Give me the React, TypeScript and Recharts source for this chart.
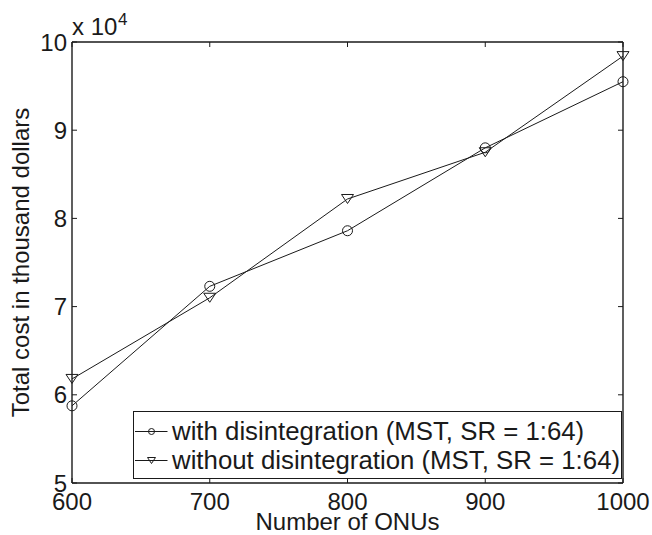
import React from 'react';
import { LineChart, Line, XAxis, YAxis, Legend, ReferenceLine } from 'recharts';

// values (cost in thousand dollars)
const onus = [600, 700, 800, 900, 1000];
const withDisintegration = [58750, 72300, 78600, 88000, 95500];
const withoutDisintegration = [61800, 71000, 82200, 87500, 98400];
const xTicks = [600, 700, 800, 900, 1000];
const yTicks = [50000, 60000, 70000, 80000, 90000, 100000];
const seriesNames = ['with disintegration (MST, SR = 1:64)', 'without disintegration (MST, SR = 1:64)'];

const data = onus.map((n, i) => ({
  onus: n,
  withDis: withDisintegration[i],
  withoutDis: withoutDisintegration[i],
}));

const W = 652;
const H = 535;
const margin = { top: 42, right: 29, bottom: 22, left: 12 };
const Y_AXIS_W = 60;
const X_AXIS_H = 30;
const PLOT_W = W - margin.left - margin.right - Y_AXIS_W;
const PLOT_H = H - margin.top - margin.bottom - X_AXIS_H;
const TICK_LEN = 5;
const INK = '#1a1a1a';
const FONT = '"Liberation Sans", Arial, Helvetica, sans-serif';

const CircleMark = ({ cx, cy, r = 5 }: any) => (
  <circle cx={cx} cy={cy} r={r} fill="none" stroke={INK} strokeWidth={1} />
);

const TriangleMark = ({ cx, cy, s = 6 }: any) => (
  <polygon
    points={`${cx - s},${cy - s * 0.75} ${cx + s},${cy - s * 0.75} ${cx},${cy + s * 0.75}`}
    fill="none"
    stroke={INK}
    strokeWidth={1}
  />
);

// bottom tick: inward tick at bottom and top of the box, label below
const BottomTick = (props: any) => {
  const { x, y, payload } = props;
  const axisY = y - 10;
  return (
    <g>
      <line x1={x} x2={x} y1={axisY} y2={axisY - TICK_LEN} stroke={INK} />
      <line x1={x} x2={x} y1={axisY - PLOT_H} y2={axisY - PLOT_H + TICK_LEN} stroke={INK} />
      <text x={x} y={y} dy="0.71em" textAnchor="middle" fill={INK} fontSize={24} fontFamily={FONT}>
        {payload.value}
      </text>
    </g>
  );
};

// left tick: inward tick at left and right of the box, label left
const LeftTick = (props: any) => {
  const { x, y, payload } = props;
  const axisX = x + 5;
  return (
    <g>
      <line x1={axisX} x2={axisX + TICK_LEN} y1={y} y2={y} stroke={INK} />
      <line x1={axisX + PLOT_W} x2={axisX + PLOT_W - TICK_LEN} y1={y} y2={y} stroke={INK} />
      <text x={x} y={y} dy="0.355em" textAnchor="end" fill={INK} fontSize={24} fontFamily={FONT}>
        {payload.value / 10000}
      </text>
    </g>
  );
};

const legendMarks = [CircleMark, TriangleMark];

const LegendBox = () => (
  <div
    style={{
      width: 489,
      height: 68,
      boxSizing: 'border-box',
      border: `1.3px solid ${INK}`,
      background: '#fff',
      paddingTop: 5,
      fontFamily: FONT,
      fontSize: 25.8,
      color: INK,
    }}
  >
    {seriesNames.map((name, i) => {
      const Mark = legendMarks[i];
      return (
        <div key={name} style={{ display: 'flex', alignItems: 'center', height: 29, whiteSpace: 'nowrap' }}>
          <svg width={38} height={29} style={{ flex: 'none' }}>
            <line x1={1} x2={33.5} y1={14.5} y2={14.5} stroke={INK} strokeWidth={1} />
            {i === 0 ? <Mark cx={17.5} cy={14.5} r={3} /> : <Mark cx={17.5} cy={14.5} s={4} />}
          </svg>
          <span style={{ lineHeight: '29px' }}>{name}</span>
        </div>
      );
    })}
  </div>
);

export default function App() {
  return (
    <div style={{ position: 'absolute', left: 0, top: 0, width: W, height: H, background: '#fff', fontFamily: FONT }}>
      <LineChart width={W} height={H} data={data} margin={margin} style={{ fontFamily: FONT }}>
        <XAxis
          dataKey="onus"
          type="number"
          domain={[600, 1000]}
          ticks={xTicks}
          interval={0}
          height={X_AXIS_H}
          tickSize={0}
          tickMargin={10}
          tickLine={false}
          axisLine={{ stroke: INK, strokeWidth: 1.4 }}
          tick={<BottomTick />}
          label={{ value: 'Number of ONUs', position: 'bottom', offset: 0, fill: INK, fontSize: 24, fontFamily: FONT }}
        />
        <YAxis
          type="number"
          domain={[50000, 100000]}
          ticks={yTicks}
          interval={0}
          width={Y_AXIS_W}
          tickSize={0}
          tickMargin={5}
          tickLine={false}
          axisLine={{ stroke: INK, strokeWidth: 1.4 }}
          tick={<LeftTick />}
          label={{
            value: 'Total cost in thousand dollars',
            angle: -90,
            position: 'insideLeft',
            offset: 8,
            fill: INK,
            fontSize: 24,
            fontFamily: FONT,
            style: { textAnchor: 'middle' },
          }}
        />
        <ReferenceLine y={100000} stroke={INK} strokeWidth={1.4} />
        <ReferenceLine x={1000} stroke={INK} strokeWidth={1.4} />
        <Line
          type="linear"
          dataKey="withDis"
          name={seriesNames[0]}
          stroke={INK}
          strokeWidth={1}
          dot={(p: any) => <CircleMark key={`c${p.index}`} cx={p.cx} cy={p.cy} />}
          activeDot={false}
          isAnimationActive={false}
        />
        <Line
          type="linear"
          dataKey="withoutDis"
          name={seriesNames[1]}
          stroke={INK}
          strokeWidth={1}
          dot={(p: any) => <TriangleMark key={`t${p.index}`} cx={p.cx} cy={p.cy} />}
          activeDot={false}
          isAnimationActive={false}
        />
        <Legend
          layout="horizontal"
          align="center"
          verticalAlign="middle"
          content={() => <LegendBox />}
          wrapperStyle={{ left: 133, top: 411, width: 489, height: 68 }}
        />
      </LineChart>
      <div style={{ position: 'absolute', left: 72, top: 14.7, fontSize: 24, lineHeight: '24px', color: INK, whiteSpace: 'nowrap' }}>
        x 10
      </div>
      <div style={{ position: 'absolute', left: 118, top: 10.6, fontSize: 17, lineHeight: '17px', color: INK }}>4</div>
    </div>
  );
}
